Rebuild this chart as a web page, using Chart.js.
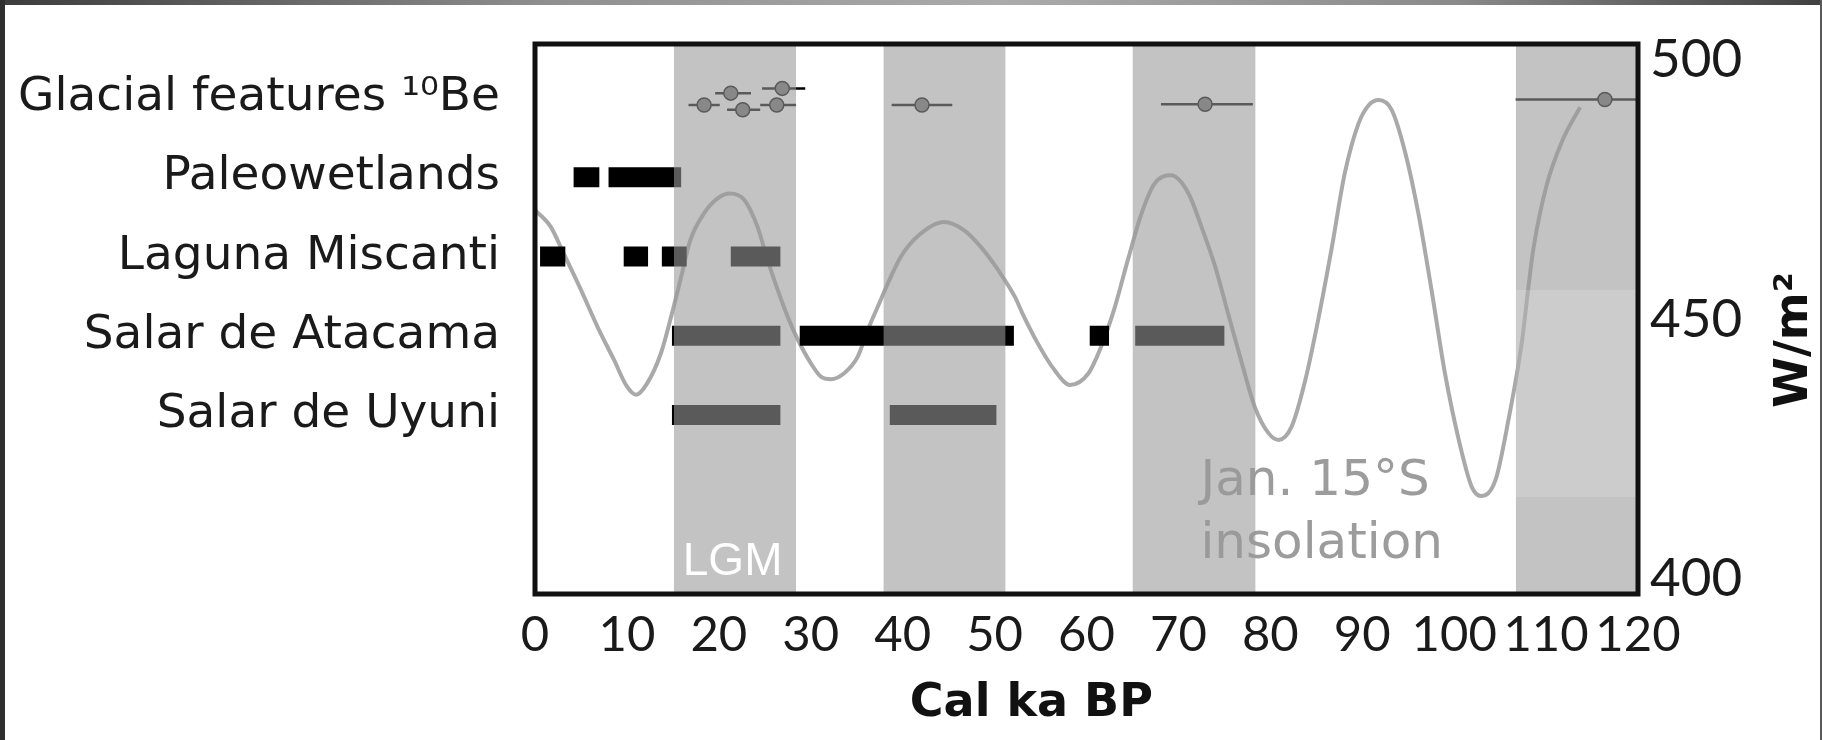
<!DOCTYPE html>
<html>
<head>
<meta charset="utf-8">
<title>Insolation and paleo-records, Cal ka BP</title>
<script src="https://cdn.jsdelivr.net/npm/chart.js@4.4.1/dist/chart.umd.min.js"></script>
<style>
  html, body { margin: 0; padding: 0; background: #fff; }
  #wrap { position: relative; width: 1822px; height: 740px; overflow: hidden; background: #fff; }
  #chart { position: absolute; left: 0; top: 0; }
  .strip { position: absolute; }
</style>
</head>
<body>
<div id="wrap">
  <canvas id="chart" width="1822" height="740"></canvas>
  <div class="strip" style="left:0;top:0;width:1822px;height:5px;background:linear-gradient(to right,#3c3c3c,#8f8f8f 30%,#ababab 55%,#8a8a8a 80%,#404040);"></div>
  <div class="strip" style="left:0;top:0;width:5px;height:740px;background:#2e2e2e;"></div>
  <div class="strip" style="right:0;top:0;width:2px;height:740px;background:#5a5a5a;"></div>
</div>
<script>
// Row labels (left side)
const rowLabels = [
  "Glacial features \u00B9\u2070Be",
  "Paleowetlands",
  "Laguna Miscanti",
  "Salar de Atacama",
  "Salar de Uyuni",
];

// Glacial features 10Be: ages, error bar limits (ka) and lane inside row 0
const glacialAge = [18.4, 21.3, 22.6, 26.3, 26.9, 42.1, 72.9, 116.4];
const glacialLo = [16.7, 19.6, 20.9, 24.5, 24.7, 38.8, 68.1, 106.7];
const glacialHi = [20.1, 23.5, 24.5, 28.4, 29.4, 45.4, 78.1, 120];
const glacialLane = [0.09, -0.06, 0.15, 0.09, -0.12, 0.09, 0.08, 0.02];

// Wet periods per record, [start, end] in ka
const paleowetlands = [[4.2, 7.0], [8.0, 15.9]];
const lagunaMiscanti = [[0.55, 3.3], [9.65, 12.3], [13.8, 16.5], [21.3, 26.7]];
const salarAtacama = [[14.9, 26.7], [28.8, 52.1], [60.35, 62.45], [65.3, 75.0]];
const salarUyuni = [[14.9, 26.7], [38.6, 50.2]];

// Shaded periods (ka)
const bandStart = [15.1, 37.9, 65.0, 106.7];
const bandEnd = [28.4, 51.2, 78.4, 120];
// lighter patch inside the last shaded period: ka range, W/m2 range
const patchKa = [106.7, 120];
const patchWm2 = [415.8, 455.7];

// Jan. 15°S insolation (W/m2)
const insolationAge = [
  0, 1.7, 3.1, 5.0, 6.8, 8.6, 10.0, 11.0, 12.2, 13.7, 14.8, 15.9, 16.9, 18.4,
  19.9, 21.2, 22.8, 24.2, 25.3, 26.4, 27.5, 28.6, 30.0, 31.1, 32.2, 33.6, 35.1,
  36.2, 37.3, 38.4, 39.8, 41.6, 44.5, 46.7, 48.5, 50.4, 52.2, 53.0, 54.7, 56.5,
  58.2, 60.2, 61.6, 63.1, 64.5, 66.0, 67.4, 69.2, 71.1, 72.5, 74.0, 75.4, 76.9,
  78.3, 79.8, 80.9, 82.3, 83.8, 85.2, 86.7, 88.1, 89.6, 90.7, 91.8, 93.2, 94.7,
  96.1, 97.6, 99.0, 100.5, 101.9, 102.9, 104.5, 105.9, 107.4, 108.0, 108.6,
  110.0, 111.8, 113.7,
];
const insolationWm2 = [
  471.1, 467.9, 462.8, 455.7, 448.6, 442.2, 437.1, 435.5, 437.7, 443.5, 450.5,
  458.2, 465.3, 470.5, 473.4, 474.3, 473.0, 467.9, 461.5, 455.7, 450.5, 446.1,
  441.6, 439.0, 438.5, 439.6, 442.8, 448.0, 452.5, 457.0, 462.1, 466.0, 468.8,
  467.2, 464.0, 459.5, 454.4, 451.3, 445.4, 440.3, 437.4, 439.6, 444.8, 452.5,
  461.5, 470.5, 476.2, 477.8, 474.3, 467.9, 460.2, 451.2, 441.6, 433.2, 428.1,
  426.8, 429.3, 438.3, 449.9, 464.0, 478.2, 487.8, 491.3, 492.3, 490.4, 482.0,
  470.5, 455.0, 439.6, 426.8, 417.8, 416.0, 419.1, 430.6, 446.1, 455.1, 463.4,
  475.5, 484.6, 490.9,
];

// Axis ticks
const wmTicks = [400, 450, 500];
const xMin = 0, xMax = 120, xStep = 10;
const wmMin = 397.1, wmMax = 503.1;
const rowMin = -0.68, rowMax = 6.26;

const BAND = "rgba(153,153,153,0.59)";
const GOTHIC = "'DejaVu Sans', sans-serif";

// turn [start,end] pairs into broken line segments on one row
function segments(ranges, row) {
  const pts = [];
  ranges.forEach(function (r) {
    pts.push({ x: r[0], y: row }, { x: r[1], y: row }, { x: r[1], y: null });
  });
  return pts;
}

const barPoints = [].concat(
  segments(paleowetlands, 1),
  segments(lagunaMiscanti, 2),
  segments(salarAtacama, 3),
  segments(salarUyuni, 4)
);

const errPoints = [];
glacialAge.forEach(function (a, i) {
  errPoints.push(
    { x: glacialLo[i], y: glacialLane[i] },
    { x: glacialHi[i], y: glacialLane[i] },
    { x: glacialHi[i], y: null }
  );
});

const bandSets = bandStart.map(function (s, i) {
  return {
    label: "band" + i,
    data: [{ x: s, y: wmMax }, { x: bandEnd[i], y: wmMax }],
    yAxisID: "y",
    fill: "start",
    backgroundColor: BAND,
    borderWidth: 0,
    pointRadius: 0,
    tension: 0,
  };
});

// drop the half-label overflow so the plot box stays where it is asked
function noPad(s) {
  s.paddingTop = 0;
  s.paddingBottom = 0;
  s.paddingLeft = 0;
  s.paddingRight = 0;
}

const annotations = {
  id: "annotations",
  beforeDatasetsDraw(chart) {
    const { ctx, chartArea, scales } = chart;
    ctx.save();
    ctx.fillStyle = "#9c9c9c";
    ctx.font = "50px " + GOTHIC;
    ctx.textAlign = "left";
    ctx.textBaseline = "alphabetic";
    const tx = scales.x.getPixelForValue(72.4);
    ctx.fillText("Jan. 15\u00B0S", tx, chartArea.bottom - 99);
    ctx.fillText("insolation", tx, chartArea.bottom - 36);
    ctx.restore();
  },
  afterDatasetsDraw(chart) {
    const { ctx, chartArea, scales } = chart;
    ctx.save();
    // frame
    ctx.strokeStyle = "#111";
    ctx.lineWidth = 5;
    ctx.strokeRect(chartArea.left, chartArea.top,
      chartArea.right - chartArea.left, chartArea.bottom - chartArea.top);
    // LGM label
    ctx.fillStyle = "#fff";
    ctx.font = "46px 'Liberation Sans', Arial, sans-serif";
    ctx.textAlign = "center";
    ctx.textBaseline = "alphabetic";
    ctx.fillText("LGM", scales.x.getPixelForValue(21.5), chartArea.bottom - 19);
    // x title
    ctx.fillStyle = "#111";
    ctx.font = "bold 46px " + GOTHIC;
    ctx.fillText("Cal ka BP", scales.x.getPixelForValue(54), 716);
    // right title, reads bottom to top
    ctx.translate(chartArea.right + 169, 340);
    ctx.rotate(-Math.PI / 2);
    ctx.fillText("W/m\u00B2", 0, 0);
    ctx.restore();
  },
};

new Chart(document.getElementById("chart"), {
  type: "line",
  data: {
    datasets: [
      {
        label: "patch",
        data: [{ x: patchKa[0], y: patchWm2[1] }, { x: patchKa[1], y: patchWm2[1] }],
        yAxisID: "y",
        fill: { value: patchWm2[0] },
        backgroundColor: "rgba(255,255,255,0.15)",
        borderWidth: 0,
        pointRadius: 0,
        tension: 0,
      },
    ].concat(bandSets, [
      {
        label: "Glacial features",
        data: glacialAge.map((a, i) => ({ x: a, y: glacialLane[i] })),
        yAxisID: "rows",
        showLine: false,
        pointRadius: 7,
        pointBackgroundColor: "#707070",
        pointBorderColor: "#000",
        pointBorderWidth: 1.5,
      },
      {
        label: "Glacial errors",
        data: errPoints,
        yAxisID: "rows",
        borderColor: "#000",
        borderWidth: 2.5,
        pointRadius: 0,
        spanGaps: false,
        tension: 0,
      },
      {
        label: "Records",
        data: barPoints,
        yAxisID: "rows",
        borderColor: "#000",
        borderWidth: 20,
        borderCapStyle: "butt",
        pointRadius: 0,
        spanGaps: false,
        tension: 0,
      },
      {
        label: "Jan. 15°S insolation",
        data: insolationAge.map((a, i) => ({ x: a, y: insolationWm2[i] })),
        yAxisID: "y",
        borderColor: "#a9a9a9",
        borderWidth: 4,
        pointRadius: 0,
        cubicInterpolationMode: "monotone",
        fill: false,
      },
    ]),
  },
  options: {
    responsive: false,
    animation: false,
    events: [],
    layout: { padding: { top: 44, left: 0, right: 0, bottom: 0 } },
    plugins: { legend: { display: false }, tooltip: { enabled: false } },
    scales: {
      x: {
        type: "linear",
        position: "bottom",
        min: xMin,
        max: xMax,
        grid: { display: false, drawTicks: false },
        border: { display: false },
        ticks: {
          stepSize: xStep,
          autoSkip: false,
          maxRotation: 0,
          padding: 12,
          color: "#1a1a1a",
          font: { family: "Lato", size: 49 },
        },
        afterFit: (s) => { s.height = 146; noPad(s); },
      },
      rows: {
        type: "linear",
        position: "left",
        reverse: true,
        min: rowMin,
        max: rowMax,
        grid: { display: false, drawTicks: false },
        border: { display: false },
        afterBuildTicks: (s) => { s.ticks = rowLabels.map((t, i) => ({ value: i })); },
        ticks: {
          autoSkip: false,
          padding: 35,
          color: "#1a1a1a",
          font: { family: "DejaVu Sans", size: 47 },
          callback: (v) => rowLabels[v],
        },
        afterFit: (s) => { s.width = 535; noPad(s); },
      },
      y: {
        type: "linear",
        position: "right",
        min: wmMin,
        max: wmMax,
        grid: { display: false, drawTicks: false },
        border: { display: false },
        afterBuildTicks: (s) => { s.ticks = wmTicks.map((v) => ({ value: v })); },
        ticks: {
          autoSkip: false,
          padding: 12,
          color: "#1a1a1a",
          font: { family: "Lato", size: 53 },
        },
        afterFit: (s) => { s.width = 184; noPad(s); },
      },
    },
  },
  plugins: [annotations],
});
</script>
</body>
</html>
